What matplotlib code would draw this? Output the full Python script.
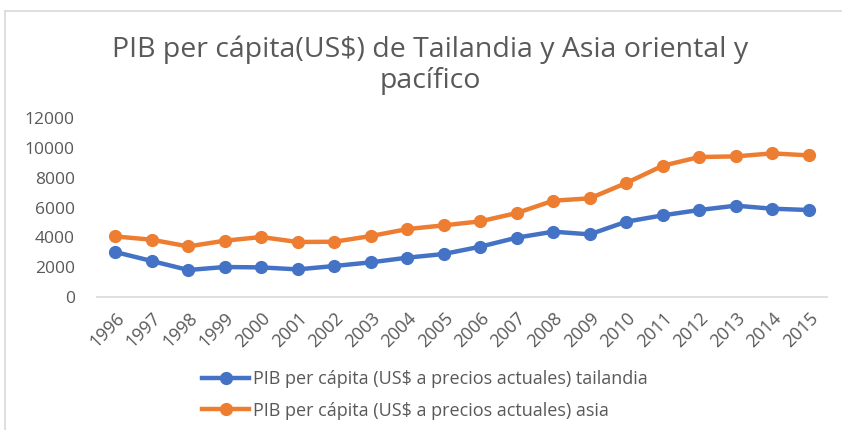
import matplotlib
matplotlib.use("Agg")
import matplotlib.pyplot as plt
from matplotlib.lines import Line2D

years = [str(y) for y in range(1996, 2016)]
tailandia = [3016, 2413, 1810, 2010, 1985, 1850, 2078, 2323, 2636, 2882,
             3374, 3977, 4379, 4200, 5049, 5474, 5831, 6122, 5920, 5831]
asia = [4062, 3840, 3391, 3773, 4021, 3686, 3705, 4085, 4553, 4803,
        5071, 5630, 6457, 6613, 7641, 8800, 9383, 9427, 9628, 9494]
yticks = [0, 2000, 4000, 6000, 8000, 10000, 12000]

title = "PIB per cápita(US$) de Tailandia y Asia oriental y\npacífico"
lab_t = "PIB per cápita (US$ a precios actuales) tailandia"
lab_a = "PIB per cápita (US$ a precios actuales) asia"

plt.rcParams['font.family'] = ['Open Sans', 'DejaVu Sans']
gray = '#595959'
blue = '#4472C4'
orange = '#ED7D31'

fig = plt.figure(figsize=(8.42, 4.30), dpi=100)
fig.patch.set_facecolor('white')
ax = fig.add_axes([97/842, 1-297/430, (827-97)/842, (297-118)/430])

x = list(range(len(years)))
ax.plot(x, tailandia, color=blue, lw=3.2, marker='o', ms=8.5, label=lab_t, solid_capstyle='round')
ax.plot(x, asia, color=orange, lw=3.2, marker='o', ms=8.5, label=lab_a, solid_capstyle='round')

ax.set_xlim(-0.5, len(years)-0.5)
ax.set_ylim(0, 12000)
ax.set_yticks(yticks)
ax.set_yticklabels([str(v) for v in yticks], fontsize=12.5, color=gray)
ax.set_xticks(x)
ax.set_xticklabels(years, rotation=45, ha='right', rotation_mode='anchor', fontsize=13, color=gray)
ax.tick_params(axis='both', length=0)
ax.tick_params(axis='y', pad=16)
ax.tick_params(axis='x', pad=9)
for s in ['top', 'right', 'left']:
    ax.spines[s].set_visible(False)
ax.spines['bottom'].set_color('#D9D9D9')
ax.spines['bottom'].set_linewidth(1.2)

fig.text(430/842, 1-65/430, title, ha='center', va='center', fontsize=20.5, color=gray, linespacing=1.15)

handles = [Line2D([0], [0], color=blue, lw=3.2, marker='o', ms=8.5),
           Line2D([0], [0], color=orange, lw=3.2, marker='o', ms=8.5)]
fig.legend(handles, [lab_t, lab_a], loc='center left', bbox_to_anchor=(186/842, 1-395/430),
           frameon=False, fontsize=13, labelcolor=gray, handlelength=2.6, handletextpad=0.2,
           labelspacing=0.75)

# chart border
fig.add_artist(Line2D([5/842, 5/842], [0, 1-11/430], color='#D9D9D9', lw=1.2, transform=fig.transFigure))
fig.add_artist(Line2D([5/842, 1], [1-11/430, 1-11/430], color='#D9D9D9', lw=1.2, transform=fig.transFigure))

fig.savefig('out.png', dpi=100)
